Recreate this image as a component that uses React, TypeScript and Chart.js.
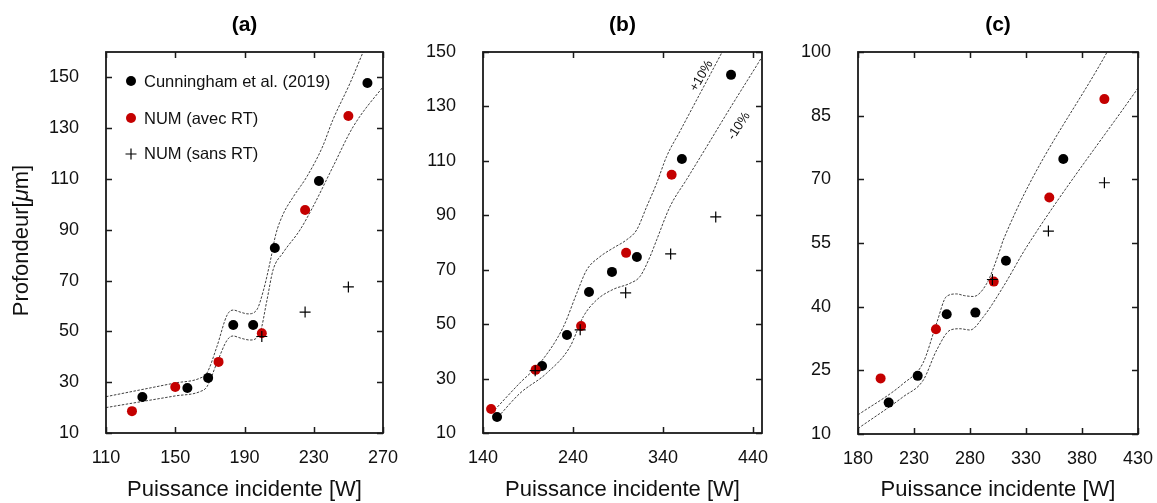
import React, { useEffect, useRef } from 'react';
import { Chart, registerables } from 'chart.js';

Chart.register(...registerables);

const FONT = "'Liberation Sans', Arial, Helvetica, sans-serif";
const H = 503;
const RED = '#c40000';
const INK = '#111111';

// ---------- Panel (a) ----------
const aTicksX = [110, 150, 190, 230, 270];
const aTicksY = [10, 30, 50, 70, 90, 110, 130, 150];
const aCunX = [131, 157, 169, 183.5, 195, 207.5, 233, 261];
const aCunY = [24.2, 27.7, 31.7, 52.5, 52.5, 82.8, 109.2, 147.8];
const aNumX = [125, 150, 175, 200, 225, 250];
const aNumY = [18.6, 28.1, 38, 49.3, 97.8, 134.8];
const aSansX = [200, 225, 250];
const aSansY = [48, 57.6, 67.5];
const aUpX = [110, 130, 150, 164.3, 168.3, 174, 180, 183.5, 188, 192, 197, 201, 205, 208, 212.2, 218, 226, 235, 241, 251, 259, 266];
const aUpY = [24.3, 27.0, 29.7, 31.6, 33.6, 43.9, 56.5, 58.4, 57.5, 56.9, 58.4, 66.3, 78, 88, 96, 102.8, 110.9, 122.6, 133.2, 147.8, 160.8, 172];
const aLoX = [110, 130, 150, 164.3, 168.3, 174, 180, 183.4, 188, 193.2, 198.9, 203, 206.5, 212.2, 222, 229.5, 241, 252.7, 270, 275];
const aLoY = [20, 22.3, 24.6, 26.3, 28.2, 37.5, 46.6, 48.2, 47.3, 46.6, 49.4, 62.4, 74.2, 80.9, 89.9, 99, 114.7, 130.5, 146.2, 150];

// ---------- Panel (b) ----------
const bTicksX = [140, 240, 340, 440];
const bTicksY = [10, 30, 50, 70, 90, 110, 130, 150];
const bCunX = [155.6, 205.6, 233.3, 257.8, 283.3, 311, 361, 415.6];
const bCunY = [15.9, 34.6, 46, 61.8, 69.2, 74.7, 110.7, 141.6];
const bNumX = [149, 198.5, 249, 299, 349.6];
const bNumY = [18.8, 33.2, 49.3, 76.2, 104.9];
const bSansX = [198, 248, 298.5, 348.5, 398.6];
const bSansY = [32.9, 47.9, 61.5, 75.8, 89.4];
const bUpX = [153, 181, 203.3, 229.3, 244.1, 255.2, 270, 284.8, 299.6, 310.7, 321.9, 333, 344, 358.9, 381.1, 407, 420];
const bUpY = [18.5, 28.4, 35.7, 49, 61.3, 69.9, 74.8, 78, 81, 84.6, 93.2, 101.8, 111.6, 120.9, 134.7, 150.8, 159];
const bLoX = [157, 181.1, 210.8, 236.7, 251.5, 266.3, 284.8, 303.3, 314.4, 325.6, 333, 347.8, 366.3, 388.5, 414.4, 449.6, 455];
const bLoY = [16, 24.6, 32, 41.7, 52.8, 58.9, 62.8, 65, 67.5, 74.8, 81, 93.2, 103.2, 115.2, 129.3, 148, 151];

// ---------- Panel (c) ----------
const cTicksX = [180, 230, 280, 330, 380, 430];
const cTicksY = [10, 25, 40, 55, 70, 85, 100];
const cCunX = [207.4, 233.3, 259.2, 284.8, 312.1, 363.3];
const cCunY = [17.4, 23.7, 38.2, 38.6, 50.8, 74.8];
const cNumX = [200.2, 249.6, 301.2, 350.8, 400];
const cNumY = [23.1, 34.7, 45.9, 65.7, 88.9];
const cSansX = [300, 350, 400];
const cSansY = [46.4, 57.8, 69.2];
const cUpX = [180, 220.5, 238, 250.3, 259, 268, 275, 283, 295, 306.8, 309.7, 403.5, 420];
const cUpY = [14.5, 21.9, 26.7, 36.2, 42.4, 43, 42.6, 42.4, 45.5, 53.4, 55.7, 100.5, 108.4];
const cLoX = [180, 220.5, 238.3, 250.3, 262.5, 271, 280, 291.9, 309.7, 330.6, 430];
const cLoY = [11.3, 18.8, 22.7, 29.8, 34.5, 34.8, 34.5, 37.6, 44.7, 54.1, 91.5];

const legendLabels = ['Cunningham et al. (2019)', 'NUM (avec RT)', 'NUM (sans RT)'];
const xTitle = 'Puissance incidente [W]';

const pts = (xs: number[], ys: number[]) => xs.map((x, i) => ({ x, y: ys[i] }));

function datasets(cunX, cunY, numX, numY, sansX, sansY, upX, upY, loX, loY) {
  const band = (d) => ({
    data: d,
    showLine: true,
    pointRadius: 0,
    borderColor: '#2a2a2a',
    borderWidth: 0.9,
    borderDash: [2.5, 1.5],
    cubicInterpolationMode: 'monotone',
    fill: false,
  });
  return [
    { data: pts(sansX, sansY), pointStyle: 'cross', pointRadius: 5.5, borderColor: '#000', backgroundColor: '#000', pointBorderWidth: 1.2, showLine: false },
    { data: pts(numX, numY), pointStyle: 'circle', pointRadius: 5, backgroundColor: RED, borderColor: RED, pointBorderWidth: 0, showLine: false },
    { data: pts(cunX, cunY), pointStyle: 'circle', pointRadius: 5, backgroundColor: '#000', borderColor: '#000', pointBorderWidth: 0, showLine: false },
    band(pts(upX, upY)),
    band(pts(loX, loY)),
  ];
}

const framePlugin = {
  id: 'frameTicks',
  afterDatasetsDraw(chart) {
    const { ctx, chartArea: a, scales } = chart;
    const xs = scales.x;
    const ys = scales.y;
    const len = 6;
    ctx.save();
    ctx.strokeStyle = '#1a1a1a';
    ctx.lineWidth = 1.5;
    ctx.beginPath();
    xs.ticks.forEach((t) => {
      const p = Math.round(xs.getPixelForValue(t.value)) + 0.5;
      ctx.moveTo(p, a.bottom);
      ctx.lineTo(p, a.bottom - len);
      ctx.moveTo(p, a.top);
      ctx.lineTo(p, a.top + len);
    });
    ys.ticks.forEach((t) => {
      const p = Math.round(ys.getPixelForValue(t.value)) + 0.5;
      ctx.moveTo(a.left, p);
      ctx.lineTo(a.left + len, p);
      ctx.moveTo(a.right, p);
      ctx.lineTo(a.right - len, p);
    });
    ctx.stroke();
    ctx.lineWidth = 1.8;
    ctx.strokeRect(a.left, a.top, a.right - a.left, a.bottom - a.top);
    ctx.restore();
  },
};

function makeConfig(opts) {
  const { x0, W, L, R, B, title, xMin, xMax, xTicks, yMin, yMax, yTicks, data, extra } = opts;
  return {
    type: 'scatter',
    data: { datasets: data },
    options: {
      animation: false,
      responsive: false,
      maintainAspectRatio: false,
      layout: { padding: { left: 0, top: 0, bottom: 0, right: x0 + W - R } },
      plugins: {
        legend: { display: false },
        tooltip: { enabled: false },
        title: {
          display: true,
          text: title,
          fullSize: false,
          color: '#000',
          font: { size: 21, weight: 'bold', family: FONT },
          padding: { top: 13, bottom: 13.8 },
        },
      },
      scales: {
        x: {
          type: 'linear',
          min: xMin,
          max: xMax,
          grid: { display: false },
          border: { display: false },
          afterBuildTicks: (s) => { s.ticks = xTicks.map((v) => ({ value: v })); },
          afterFit: (s) => { s.height = H - B; s.paddingLeft = 0; s.paddingRight = 0; },
          ticks: { autoSkip: false, maxRotation: 0, padding: 6, color: INK, font: { size: 18, family: FONT } },
          title: { display: true, text: xTitle, color: INK, font: { size: 22, family: FONT }, padding: { top: 0, bottom: 0 } },
        },
        y: {
          type: 'linear',
          min: yMin,
          max: yMax,
          grid: { display: false },
          border: { display: false },
          afterBuildTicks: (s) => { s.ticks = yTicks.map((v) => ({ value: v })); },
          afterFit: (s) => { s.width = L - x0; s.paddingTop = 0; s.paddingBottom = 0; },
          ticks: { autoSkip: false, padding: 19, color: INK, font: { size: 18, family: FONT } },
        },
      },
    },
    plugins: [framePlugin, ...(extra ? [extra] : [])],
  };
}

const legendPlugin = {
  id: 'legendA',
  afterDraw(chart) {
    const { ctx, chartArea: a } = chart;
    const rows = [a.top + 30, a.top + 67, a.top + 102];
    const dx = a.left + 25;
    ctx.save();
    ctx.font = `16.5px ${FONT}`;
    ctx.textBaseline = 'middle';
    ctx.textAlign = 'left';
    ctx.fillStyle = INK;
    rows.forEach((y, i) => {
      if (i < 2) {
        ctx.beginPath();
        ctx.arc(dx, y - 1, 5, 0, Math.PI * 2);
        ctx.fillStyle = i === 0 ? '#000' : RED;
        ctx.fill();
      } else {
        ctx.beginPath();
        ctx.strokeStyle = '#000';
        ctx.lineWidth = 1.2;
        ctx.moveTo(dx - 5.5, y);
        ctx.lineTo(dx + 5.5, y);
        ctx.moveTo(dx, y - 5.5);
        ctx.lineTo(dx, y + 5.5);
        ctx.stroke();
      }
      ctx.fillStyle = INK;
      ctx.fillText(legendLabels[i], a.left + 38, y);
    });
    // y-axis title with italic mu
    const parts = [['Profondeur[', 'normal'], ['\u03bc', 'italic'], ['m]', 'normal']];
    ctx.translate(22, (a.top + a.bottom) / 2 - 2);
    ctx.rotate(-Math.PI / 2);
    let total = 0;
    const widths = parts.map(([t, s]) => {
      ctx.font = `${s} 22px ${FONT}`;
      const w = ctx.measureText(t).width;
      total += w;
      return w;
    });
    let x = -total / 2;
    ctx.textAlign = 'left';
    ctx.textBaseline = 'middle';
    parts.forEach(([t, s], i) => {
      ctx.font = `${s} 22px ${FONT}`;
      ctx.fillText(t, x, 0);
      x += widths[i];
    });
    ctx.restore();
  },
};

const bandLabelsB = {
  id: 'bandLabelsB',
  afterDraw(chart) {
    const { ctx, scales } = chart;
    const items = [
      { t: '+10%', x: 382.8, y: 141.2, ang: -60 },
      { t: '-10%', x: 424.4, y: 122.8, ang: -57 },
    ];
    ctx.save();
    ctx.font = `13px ${FONT}`;
    ctx.fillStyle = INK;
    ctx.textAlign = 'center';
    ctx.textBaseline = 'middle';
    items.forEach((it) => {
      ctx.save();
      ctx.translate(scales.x.getPixelForValue(it.x), scales.y.getPixelForValue(it.y));
      ctx.rotate((it.ang * Math.PI) / 180);
      ctx.fillText(it.t, 0, 0);
      ctx.restore();
    });
    ctx.restore();
  },
};

const panels = [
  {
    x0: 0, W: 420, L: 106, R: 383, B: 433, title: '(a)',
    xMin: 110, xMax: 270, xTicks: aTicksX, yMin: 10, yMax: 160, yTicks: aTicksY,
    data: () => datasets(aCunX, aCunY, aNumX, aNumY, aSansX, aSansY, aUpX, aUpY, aLoX, aLoY),
    extra: legendPlugin,
  },
  {
    x0: 420, W: 380, L: 483, R: 762, B: 433, title: '(b)',
    xMin: 140, xMax: 450, xTicks: bTicksX, yMin: 10, yMax: 150, yTicks: bTicksY,
    data: () => datasets(bCunX, bCunY, bNumX, bNumY, bSansX, bSansY, bUpX, bUpY, bLoX, bLoY),
    extra: bandLabelsB,
  },
  {
    x0: 800, W: 357, L: 858, R: 1138, B: 434, title: '(c)',
    xMin: 180, xMax: 430, xTicks: cTicksX, yMin: 10, yMax: 100, yTicks: cTicksY,
    data: () => datasets(cCunX, cCunY, cNumX, cNumY, cSansX, cSansY, cUpX, cUpY, cLoX, cLoY),
    extra: null,
  },
];

function Panel({ p }) {
  const ref = useRef<HTMLCanvasElement>(null);
  useEffect(() => {
    if (!ref.current) return;
    Chart.defaults.font.family = FONT;
    const chart = new Chart(ref.current, makeConfig({ ...p, data: p.data() }) as any);
    return () => chart.destroy();
  }, [p]);
  return (
    <canvas
      ref={ref}
      width={p.W}
      height={H}
      style={{ position: 'absolute', left: p.x0, top: 0, width: p.W, height: H, display: 'block' }}
    />
  );
}

export default function App() {
  return (
    <div style={{ position: 'absolute', left: 0, top: 0, width: 1157, height: H, background: '#fff', overflow: 'hidden' }}>
      {panels.map((p) => (
        <Panel key={p.title} p={p} />
      ))}
    </div>
  );
}
